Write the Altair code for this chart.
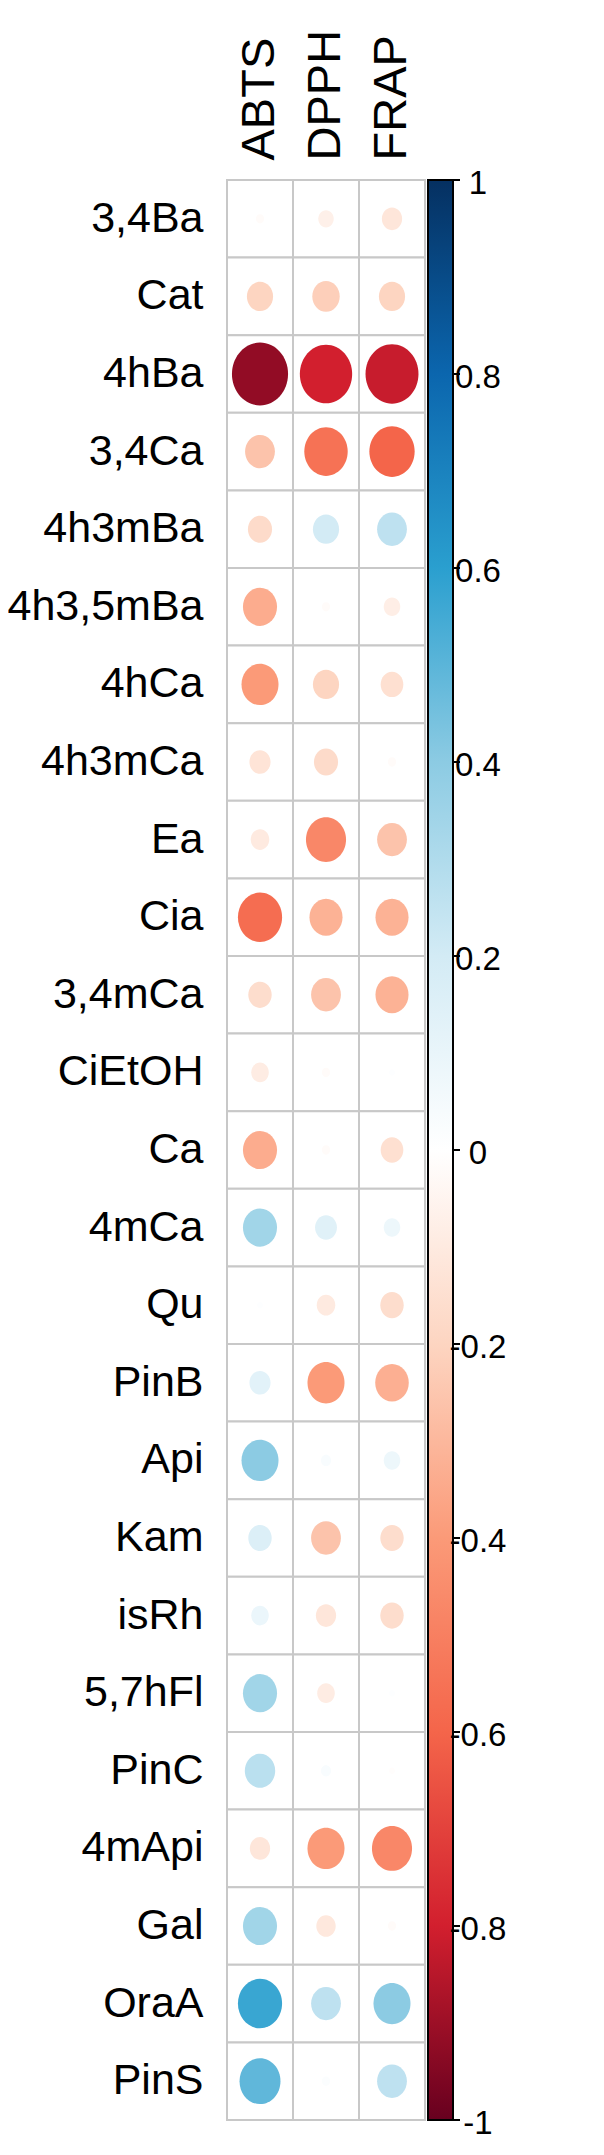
import altair as alt
import pandas as pd

rows = ["3,4Ba", "Cat", "4hBa", "3,4Ca", "4h3mBa", "4h3,5mBa", "4hCa", "4h3mCa",
        "Ea", "Cia", "3,4mCa", "CiEtOH", "Ca", "4mCa", "Qu", "PinB", "Api", "Kam",
        "isRh", "5,7hFl", "PinC", "4mApi", "Gal", "OraA", "PinS"]
cols = ["ABTS", "DPPH", "FRAP"]

abts = [-0.02, -0.20, -0.92, -0.26, -0.17, -0.34, -0.40, -0.13,
        -0.10, -0.57, -0.16, -0.09, -0.34, 0.34, 0.01, 0.13, 0.40, 0.16,
        0.09, 0.34, 0.27, -0.12, 0.34, 0.57, 0.49]
dpph = [-0.07, -0.22, -0.80, -0.55, 0.20, -0.02, -0.20, -0.17,
        -0.47, -0.32, -0.26, -0.02, -0.02, 0.14, -0.10, -0.40, 0.03, -0.26,
        -0.12, -0.09, 0.03, -0.40, -0.11, 0.26, 0.02]
frap = [-0.12, -0.20, -0.82, -0.60, 0.26, -0.08, -0.15, -0.02,
        -0.26, -0.32, -0.32, 0.01, -0.15, 0.08, -0.16, -0.33, 0.08, -0.16,
        -0.16, 0.01, -0.01, -0.47, -0.02, 0.40, 0.26]

tick_vals = [1, 0.8, 0.6, 0.4, 0.2, 0, -0.2, -0.4, -0.6, -0.8, -1]
tick_labels = ["1", "0.8", "0.6", "0.4", "0.2", "0", "-0.2", "-0.4", "-0.6", "-0.8", "-1"]

pal_domain = [-1, -0.8, -0.6, -0.4, -0.2, 0, 0.2, 0.4, 0.6, 0.8, 1]
palette = ["#67001F", "#d21f2e", "#f4654a", "#fb9a78", "#fdd5c1", "#ffffff",
           "#d3ebf5", "#8ccbe3", "#2a9fcf", "#0b66ae", "#053061"]

recs = []
for i, r in enumerate(rows):
    for c, vals in zip(cols, [abts, dpph, frap]):
        recs.append({"row": r, "col": c, "r": vals[i], "absr": abs(vals[i])})
df = pd.DataFrame(recs)
ticks_df = pd.DataFrame({"v": tick_vals, "lab": tick_labels})

W, H = 198, 1940
FONT = "Liberation Sans"

xscale = alt.Scale(type="band", paddingInner=0, paddingOuter=0, domain=cols)
yscale = alt.Scale(type="band", paddingInner=0, paddingOuter=0, domain=rows)
xaxis = alt.Axis(orient="top", title=None, labelAngle=270, labelFontSize=47,
                 labelFont=FONT, labelColor="black", ticks=False, tickSize=0,
                 domain=False, labelPadding=20, labelAlign="left",
                 labelBaseline="middle", labelLimit=0)

cells = alt.Chart(df).mark_rect(fill="white", stroke="#c8c8c8", strokeWidth=2).encode(
    x=alt.X("col:N", scale=xscale, axis=xaxis, sort=cols),
    y=alt.Y("row:N", scale=yscale, sort=rows,
            axis=alt.Axis(title=None, labelFontSize=43, labelFont=FONT,
                          labelColor="black", ticks=False, tickSize=0,
                          domain=False, labelPadding=24, labelLimit=0)),
)

ellipse = "M -1 0 A 1 1.12 0 1 0 1 0 A 1 1.12 0 1 0 -1 0 Z"
circles = alt.Chart(df).mark_point(filled=True, shape=ellipse, opacity=1, strokeWidth=0).encode(
    x=alt.X("col:N", scale=xscale, axis=xaxis, sort=cols),
    y=alt.Y("row:N", scale=yscale, sort=rows, axis=None),
    size=alt.Size("absr:Q", scale=alt.Scale(domain=[0, 1], range=[0, 3420]), legend=None),
    color=alt.Color("r:Q", scale=alt.Scale(domain=pal_domain, range=palette,
                                           interpolate="rgb"), legend=None),
)

grad = alt.LinearGradient(
    gradient="linear",
    stops=[alt.GradientStop(color=c, offset=i / 10) for i, c in enumerate(palette)],
    x1=0, x2=0, y1=1, y2=0,
)
bar = alt.Chart(pd.DataFrame({"k": [0]})).mark_rect(
    fill=grad, stroke="black", strokeWidth=2
).encode(
    x=alt.value(201), x2=alt.value(226), y=alt.value(0), y2=alt.value(H)
)

cy = alt.Y("v:Q", scale=alt.Scale(domain=[-1, 1], nice=False, zero=False), axis=None)
tick_marks = alt.Chart(ticks_df).mark_rule(color="black", strokeWidth=2).encode(
    y=cy, x=alt.value(226), x2=alt.value(233)
)
tick_text = alt.Chart(ticks_df).mark_text(
    align="center", baseline="middle", fontSize=33, font=FONT, color="black", dy=4
).encode(y=cy, x=alt.value(251), text="lab:N")

chart = alt.layer(cells, circles, bar, tick_marks, tick_text).resolve_scale(
    y="independent"
).properties(
    width=W, height=H,
    autosize=alt.AutoSizeParams(type="none"),
    padding={"left": 219, "top": 172, "right": 160, "bottom": 20},
    background="white",
).configure_view(strokeWidth=0)

chart.save("out.html", embed_options={"renderer": "svg", "actions": False})
